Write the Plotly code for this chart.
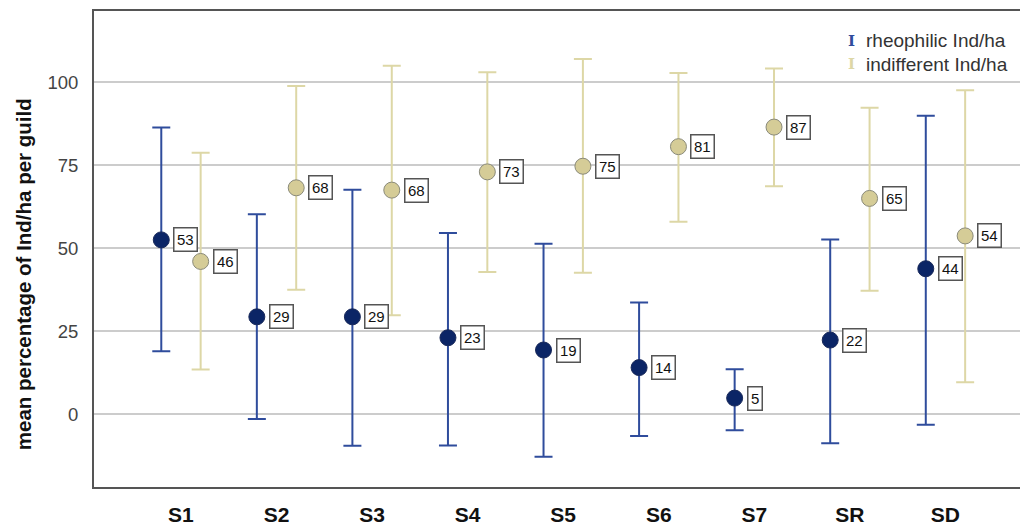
import plotly.graph_objects as go

categories = ["S1", "S2", "S3", "S4", "S5", "S6", "S7", "SR", "SD"]

rheo_mean = [52.5, 29.3, 29.3, 23.0, 19.3, 14.0, 4.8, 22.3, 43.8]
rheo_upper = [86.4, 60.2, 67.6, 54.6, 51.3, 33.6, 13.5, 52.6, 89.9]
rheo_lower = [18.9, -1.5, -9.6, -9.5, -12.9, -6.6, -4.9, -8.8, -3.2]
rheo_labels = ["53", "29", "29", "23", "19", "14", "5", "22", "44"]

ind_mean = [46.0, 68.2, 67.5, 73.0, 74.7, 80.6, 86.5, 65.0, 53.7]
ind_upper = [78.8, 98.9, 105.0, 103.0, 107.0, 102.8, 104.2, 92.3, 97.6]
ind_lower = [13.4, 37.5, 29.8, 42.8, 42.6, 58.0, 68.7, 37.2, 9.6]
ind_labels = ["46", "68", "68", "73", "75", "81", "87", "65", "54"]

series_names = ["rheophilic Ind/ha", "indifferent Ind/ha"]
y_title = "mean percentage of Ind/ha per guild"

offset = 0.206
x_r = [i - offset for i in range(len(categories))]
x_i = [i + offset for i in range(len(categories))]

RHEO_LINE = "#2F4C9C"
RHEO_FILL = "#0B2566"
IND_LINE = "#DDD7A6"
IND_FILL = "#D5CC97"
FONT = "Arial, Liberation Sans, sans-serif"

fig = go.Figure()

fig.add_trace(go.Scatter(
    x=x_r, y=rheo_mean, mode="markers", name=series_names[0], showlegend=False,
    marker=dict(size=16, color=RHEO_FILL, line=dict(color="#1a2a5a", width=1)),
    error_y=dict(type="data", symmetric=False,
                 array=[u - m for u, m in zip(rheo_upper, rheo_mean)],
                 arrayminus=[m - l for m, l in zip(rheo_mean, rheo_lower)],
                 color=RHEO_LINE, thickness=2, width=9),
))
fig.add_trace(go.Scatter(
    x=x_i, y=ind_mean, mode="markers", name=series_names[1], showlegend=False,
    marker=dict(size=16, color=IND_FILL, line=dict(color="#8a8a7a", width=1)),
    error_y=dict(type="data", symmetric=False,
                 array=[u - m for u, m in zip(ind_upper, ind_mean)],
                 arrayminus=[m - l for m, l in zip(ind_mean, ind_lower)],
                 color=IND_LINE, thickness=2, width=9),
))

annotations = []
for xs, ys, labs in [(x_r, rheo_mean, rheo_labels), (x_i, ind_mean, ind_labels)]:
    for x, y, t in zip(xs, ys, labs):
        annotations.append(dict(
            x=x, y=y, xref="x", yref="y", text=t, showarrow=False,
            xanchor="left", yanchor="middle", xshift=12,
            font=dict(family=FONT, size=15, color="#111"),
            bgcolor="white", bordercolor="#555", borderwidth=1.5, borderpad=2.5,
        ))

# layout geometry (page body margin removed via post_script)
W, H = 1020, 526
ML, MR, MT, MB = 94, 0, 11, 34
pw, ph = W - ML - MR, H - MT - MB


def px_to_paper(xp, yp):
    return (xp - ML) / pw, (H - MB - yp) / ph


leg = [(series_names[0], RHEO_LINE, 41), (series_names[1], IND_LINE, 65)]
for name, col, ypix in leg:
    ax, ay = px_to_paper(851, ypix)
    annotations.append(dict(
        x=ax, y=ay, xref="paper", yref="paper", text="<b>I</b>",
        showarrow=False, xanchor="center", yanchor="middle",
        font=dict(family="DejaVu Serif", size=15, color=col),
    ))
    tx, ty = px_to_paper(864, ypix)
    annotations.append(dict(
        x=tx, y=ty, xref="paper", yref="paper", text=name,
        showarrow=False, xanchor="left", yanchor="middle",
        font=dict(family=FONT, size=19, color="#333"),
    ))

# y-axis title as rotated annotation
tx, ty = px_to_paper(23, 277)
annotations.append(dict(
    x=tx, y=ty, xref="paper", yref="paper", text="<b>%s</b>" % y_title,
    showarrow=False, xanchor="center", yanchor="middle", textangle=-90,
    font=dict(family=FONT, size=20.5, color="#111"),
))

fig.update_layout(
    width=W, height=H,
    margin=dict(l=ML, r=MR, t=MT, b=MB, pad=0),
    paper_bgcolor="white", plot_bgcolor="white",
    showlegend=False,
    annotations=annotations,
    xaxis=dict(
        range=[-0.91, 8.78], tickvals=list(range(len(categories))),
        ticktext=["<b>%s</b>" % c for c in categories],
        tickfont=dict(family=FONT, size=21, color="#111"),
        showgrid=False, zeroline=False, ticks="", ticklabelstandoff=8,
        showline=True, linecolor="#555", linewidth=2, mirror=True,
    ),
    yaxis=dict(
        range=[-22.0, 121.5], tickvals=[0, 25, 50, 75, 100],
        tickfont=dict(family=FONT, size=18.5, color="#444"),
        showgrid=True, gridcolor="#cccccc", gridwidth=1.5,
        zeroline=False, ticks="", ticklabelstandoff=10,
        showline=True, linecolor="#555", linewidth=2,
    ),
)

fig.write_html(
    "out.html",
    config={"displayModeBar": False},
    post_script="document.documentElement.style.margin='0';"
                "document.body.style.margin='0';"
                "document.body.style.overflow='hidden';",
)
